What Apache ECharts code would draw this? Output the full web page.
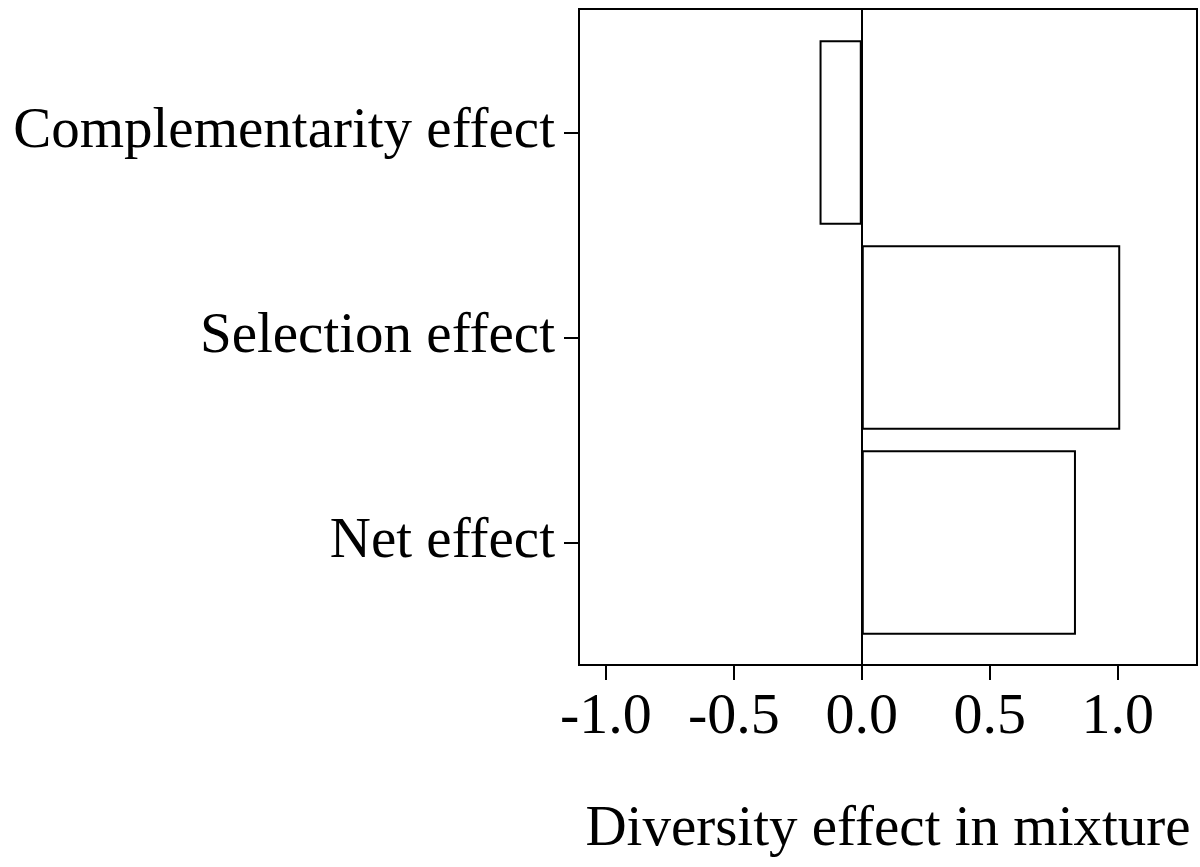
<!DOCTYPE html>
<html>
<head>
<meta charset="utf-8">
<title>Diversity effect in mixture</title>
<script src="https://cdn.jsdelivr.net/npm/echarts@6/dist/echarts.min.js"></script>
<style>
    html, body { margin: 0; padding: 0; background: #fff; }
    #chart { width: 1200px; height: 867px; }
</style>
</head>
<body>
<div id="chart"></div>
<script>
// effects, top to bottom
const effects = ['Complementarity effect', 'Selection effect', 'Net effect'];
const effectValues = [-0.165, 1.01, 0.837];
const xTicks = [-1.0, -0.5, 0.0, 0.5, 1.0];
const xMin = -1.105;
const xMax = 1.31;

const FONT = '"Liberation Serif", "Times New Roman", serif';

let chart = echarts.init(document.getElementById('chart'));

chart.setOption({
    backgroundColor: '#fff',
    animation: false,
    grid: [
        // frame + x axis
        {
            left: 579, width: 618, top: 9, height: 656,
            show: true,
            borderColor: '#000',
            borderWidth: 2,
            backgroundColor: 'transparent'
        },
        // bars, inset a little from the frame
        {
            left: 579, width: 618, top: 30, height: 615
        }
    ],
    xAxis: [
        {
            gridIndex: 0,
            type: 'value',
            min: xMin,
            max: xMax,
            name: 'Diversity effect in mixture',
            nameLocation: 'middle',
            nameGap: 137,
            nameTextStyle: { fontFamily: FONT, fontSize: 57, color: '#000' },
            axisLine: { show: true, lineStyle: { color: '#000', width: 2 } },
            axisTick: {
                show: true,
                length: 15,
                customValues: xTicks,
                lineStyle: { color: '#000', width: 2 }
            },
            axisLabel: {
                margin: 24,
                customValues: xTicks,
                fontFamily: FONT,
                fontSize: 58,
                color: '#000',
                formatter: v => v.toFixed(1)
            },
            splitLine: { show: false }
        },
        {
            gridIndex: 1,
            type: 'value',
            min: xMin,
            max: xMax,
            show: false
        }
    ],
    yAxis: [
        {
            gridIndex: 0,
            type: 'value',
            min: 0,
            max: 1,
            show: false
        },
        {
            gridIndex: 1,
            type: 'category',
            data: effects,
            inverse: true,
            position: 'left',
            axisLine: { show: false, onZero: false },
            axisTick: {
                show: true,
                length: 15,
                alignWithLabel: true,
                lineStyle: { color: '#000', width: 2 }
            },
            axisLabel: {
                margin: 24,
                fontFamily: FONT,
                fontSize: 57,
                color: '#000',
                padding: [16, 0, 0, 0]
            }
        }
    ],
    series: [
        {
            // zero line across the whole frame
            type: 'line',
            xAxisIndex: 0,
            yAxisIndex: 0,
            data: [],
            silent: true,
            markLine: {
                symbol: 'none',
                label: { show: false },
                lineStyle: { color: '#000', width: 2, type: 'solid' },
                data: [{ xAxis: 0 }]
            }
        },
        {
            type: 'bar',
            xAxisIndex: 1,
            yAxisIndex: 1,
            data: effectValues,
            barCategoryGap: '10%',
            itemStyle: {
                color: '#fff',
                borderColor: '#000',
                borderWidth: 2
            }
        }
    ]
});
</script>
</body>
</html>
